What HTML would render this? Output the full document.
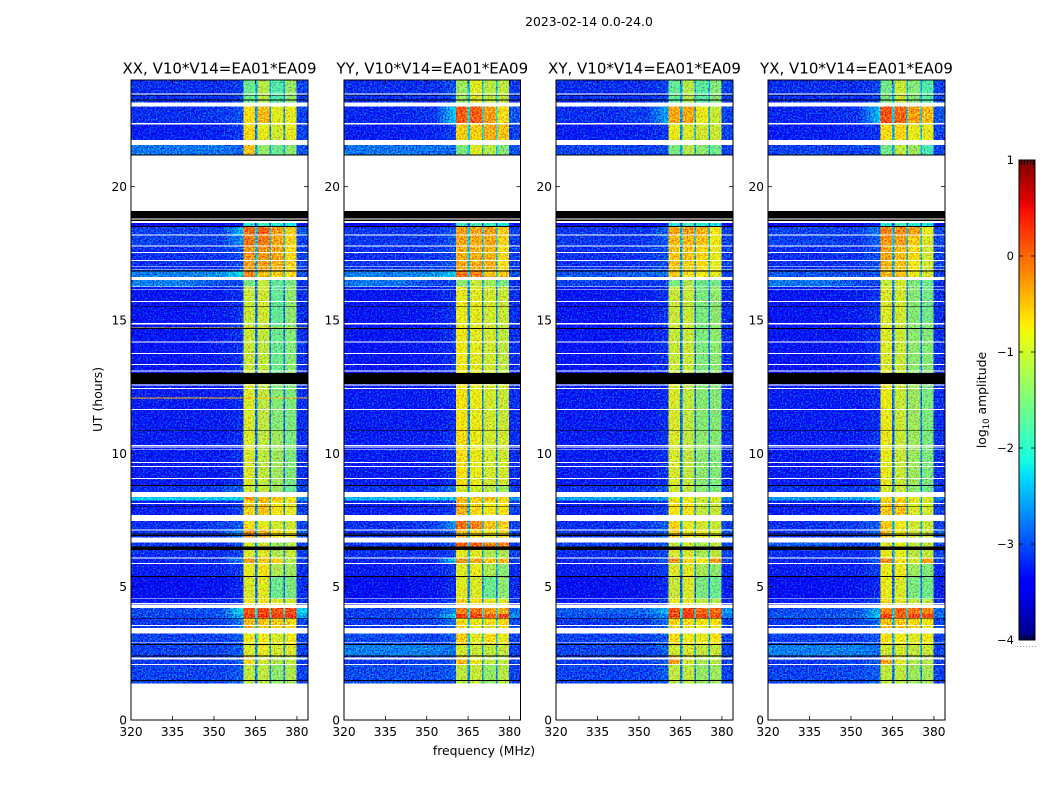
<!DOCTYPE html>
<html lang="en">
<head>
<meta charset="utf-8">
<title>2023-02-14 0.0-24.0</title>
<style>
html,body{margin:0;padding:0;background:#fff;width:1050px;height:800px;overflow:hidden}
svg{display:block}
text{font-family:"DejaVu Sans","Liberation Sans",sans-serif;fill:#000}
</style>
</head>
<body>
<svg id="figure" xmlns="http://www.w3.org/2000/svg" width="1050" height="800" viewBox="0 0 1050 800">
  <defs>
    <!-- Decorative receiver-noise grain only; every level comes from the arrays below -->
    <filter id="grain" filterUnits="userSpaceOnUse" x="120" y="70" width="840" height="660" color-interpolation-filters="sRGB">
      <feTurbulence type="fractalNoise" baseFrequency="0.62" numOctaves="2" seed="7" result="n"/>
      <feColorMatrix in="n" type="matrix" values="0.6 0 0 0 0.2  0 1.5 0 0 -0.3  0 0 1.2 0 -0.1  0 0 0 0 1" result="opaque"/>
      <feComposite in="SourceGraphic" in2="opaque" operator="arithmetic" k1="0" k2="1" k3="1" k4="-0.5" result="mix"/>
      <feComposite in="mix" in2="SourceAlpha" operator="in"/>
    </filter>
  </defs>
  <rect x="0" y="0" width="1050" height="800" fill="#fff"/>
  <text x="589" y="26" font-size="12.4" text-anchor="middle">2023-02-14 0.0-24.0</text>
  <text transform="translate(102,399.5) rotate(-90)" font-size="12.4" text-anchor="middle">UT (hours)</text>
  <text x="484" y="755" font-size="12.4" text-anchor="middle">frequency (MHz)</text>
  <text transform="translate(986,400) rotate(-90)" font-size="12.4" text-anchor="middle">log<tspan font-size="8.5" dy="3">10</tspan><tspan dy="-3"> amplitude</tspan></text>
  <g id="panels"></g>
  <g id="colorbar"></g>
</svg>
<script>
const panelTitles = ["XX, V10*V14=EA01*EA09", "YY, V10*V14=EA01*EA09", "XY, V10*V14=EA01*EA09", "YX, V10*V14=EA01*EA09"];
const xTickLabels = [320, 335, 350, 365, 380];
const yTickLabels = [0, 5, 10, 15, 20];
const colorbarTicks = [-4, -3, -2, -1, 0, 1];

// Frequency edges (MHz) of the heatmap columns
const freqEdges = [320, 340, 353, 360.6, 364.8, 365.7, 370, 370.6, 375.1, 375.7, 379.9, 384];
// Which value of a level row (below) each column reads: 0 left,1 mid,2 near,3-6 subbands,7 right,8 subband gap
const columnLevelIndex = [0, 1, 2, 3, 8, 4, 8, 5, 8, 6, 7];

// Time span (UT hours) of each heatmap row
const rowTop = [24.00,23.00,22.37,21.56,18.64,18.49,18.15,17.78,17.21,16.82,16.50,16.24,14.85,12.60,10.88,8.81,8.37,8.23,7.46,7.16,6.65,6.38,6.08,5.85,5.40,4.54,4.20,3.98,3.83,3.26,2.85,2.40,2.06];
const rowBottom = [23.15,22.37,21.75,21.17,18.49,18.15,17.78,17.21,16.82,16.61,16.24,14.85,13.01,10.88,8.81,8.55,8.23,7.69,7.16,6.84,6.38,6.08,5.85,5.40,4.54,4.31,3.98,3.83,3.45,2.85,2.40,2.06,1.35];

// log10 amplitude: [left, mid, near, sub1, sub2, sub3, sub4, right, gap]
const xxLevels = [
[-3.1,-3.1,-3.0,-1.6,-1.15,-1.75,-1.35,-3.0,-2.5],
[-3.1,-3.05,-2.9,-0.7,-0.5,-0.9,-0.85,-3.0,-2.6],
[-3.2,-3.15,-3.0,-0.65,-0.85,-1.0,-0.85,-3.0,-2.7],
[-2.75,-2.75,-2.85,-0.55,-1.35,-1.6,-1.4,-2.9,-2.5],
[-3.4,-3.4,-3.2,-2.0,-1.8,-2.0,-2.1,-3.3,-3.0],
[-3.0,-3.0,-2.35,-0.05,-0.05,-0.35,-0.6,-2.9,-2.3],
[-3.0,-3.0,-2.6,-0.15,-0.15,-0.4,-0.65,-3.0,-2.4],
[-3.1,-3.05,-2.9,-0.3,-0.3,-0.4,-0.7,-3.0,-2.5],
[-3.1,-3.1,-2.9,-0.35,-0.35,-0.45,-0.65,-3.0,-2.5],
[-2.7,-2.6,-2.2,-0.2,-0.55,-0.6,-0.7,-2.9,-2.3],
[-2.7,-2.95,-3.0,-1.5,-1.05,-1.65,-1.5,-3.1,-2.6],
[-3.25,-3.2,-3.05,-1.05,-1.0,-1.65,-1.4,-3.1,-2.8],
[-3.25,-3.2,-3.05,-1.05,-1.1,-1.6,-1.45,-3.1,-2.8],
[-3.2,-3.2,-3.1,-0.95,-1.1,-1.45,-1.5,-3.1,-2.8],
[-3.2,-3.2,-3.05,-0.95,-1.1,-1.3,-1.5,-3.1,-2.8],
[-3.1,-3.0,-2.8,-1.0,-1.05,-1.3,-1.6,-3.0,-2.6],
[-2.3,-2.3,-2.25,-0.3,-0.5,-0.55,-0.75,-2.6,-2.2],
[-3.2,-3.15,-3.0,-0.65,-0.55,-0.75,-0.85,-3.0,-2.6],
[-3.1,-3.0,-2.85,-0.7,-0.85,-1.0,-1.0,-3.0,-2.5],
[-3.1,-3.0,-2.6,-0.3,-0.45,-0.7,-0.8,-2.9,-2.5],
[-3.05,-3.05,-2.9,-1.0,-1.0,-1.3,-1.1,-3.0,-2.5],
[-3.1,-3.1,-2.95,-0.95,-0.9,-1.2,-1.05,-3.0,-2.6],
[-3.15,-3.1,-2.6,-0.35,-0.55,-0.65,-1.15,-3.0,-2.5],
[-3.2,-3.15,-3.0,-0.85,-0.75,-1.2,-1.3,-3.1,-2.7],
[-3.3,-3.25,-3.1,-0.95,-0.9,-1.6,-1.5,-3.1,-2.8],
[-3.2,-3.15,-3.0,-0.8,-0.75,-0.9,-1.0,-3.1,-2.6],
[-2.95,-2.9,-2.2,0.05,0.1,0.05,0.1,-2.3,-2.1],
[-3.0,-2.9,-2.4,0.15,0.2,0.15,0.2,-2.5,-2.2],
[-3.05,-3.0,-2.7,-0.5,-0.55,-0.6,-0.65,-2.95,-2.5],
[-3.0,-3.0,-2.85,-0.8,-0.8,-0.95,-0.8,-3.0,-2.5],
[-3.0,-3.0,-2.85,-0.95,-0.85,-1.0,-0.95,-3.0,-2.6],
[-3.05,-3.0,-2.85,-0.7,-1.0,-1.2,-1.1,-3.0,-2.6],
[-3.0,-3.0,-2.85,-1.1,-1.1,-1.4,-1.2,-3.0,-2.7]
];
const yyLevels = [
[-3.1,-3.1,-2.9,-1.3,-0.9,-1.15,-1.1,-3.05,-2.4],
[-3.15,-3.05,-2.3,0.0,0.0,-0.35,-0.7,-2.9,-2.2],
[-3.2,-3.15,-3.0,-0.6,-0.6,-0.45,-0.55,-3.0,-2.3],
[-2.75,-2.75,-2.85,-1.5,-0.9,-1.15,-1.45,-2.9,-2.3],
[-3.4,-3.4,-3.2,-1.9,-1.8,-1.9,-2.1,-3.3,-3.0],
[-3.05,-3.05,-2.85,-0.35,-0.4,-0.35,-0.6,-3.0,-2.3],
[-3.05,-3.05,-2.85,-0.4,-0.4,-0.4,-0.65,-3.0,-2.3],
[-3.1,-3.05,-2.9,-0.45,-0.45,-0.45,-0.7,-3.0,-2.4],
[-3.05,-3.0,-2.9,-0.4,-0.4,-0.45,-0.7,-3.0,-2.4],
[-2.7,-2.6,-2.3,-0.1,-0.2,-0.55,-0.6,-2.9,-2.3],
[-2.75,-3.0,-3.0,-1.4,-1.1,-1.3,-1.5,-3.1,-2.5],
[-3.25,-3.2,-3.05,-0.85,-0.9,-1.0,-1.05,-3.1,-2.7],
[-3.25,-3.2,-3.05,-0.8,-0.9,-1.0,-1.1,-3.1,-2.7],
[-3.2,-3.2,-3.1,-0.75,-0.85,-1.0,-1.05,-3.1,-2.7],
[-3.2,-3.2,-3.05,-0.7,-0.85,-1.0,-1.0,-3.1,-2.7],
[-3.1,-3.0,-2.7,-0.95,-1.0,-1.15,-1.3,-3.0,-2.5],
[-2.4,-2.4,-2.3,-0.5,-0.6,-0.5,-0.7,-2.6,-2.2],
[-3.2,-3.15,-3.0,-0.45,-0.7,-0.8,-0.75,-3.0,-2.5],
[-3.1,-3.0,-2.6,-0.1,-0.2,-0.55,-0.65,-3.0,-2.4],
[-3.1,-3.0,-2.85,-0.5,-0.65,-0.8,-0.75,-2.9,-2.4],
[-3.05,-3.05,-2.8,0.0,-0.05,-0.2,-0.2,-3.0,-2.4],
[-3.1,-3.1,-2.95,-0.85,-0.9,-1.2,-1.2,-3.0,-2.5],
[-3.15,-3.1,-2.3,-0.3,-0.4,-0.55,-0.5,-3.0,-2.4],
[-3.2,-3.15,-3.0,-0.9,-0.85,-1.2,-1.4,-3.1,-2.6],
[-3.3,-3.25,-3.1,-0.9,-0.95,-1.6,-1.4,-3.1,-2.7],
[-3.2,-3.15,-3.0,-0.6,-0.7,-0.85,-0.9,-3.1,-2.5],
[-3.0,-2.95,-2.6,-0.2,-0.1,-0.35,-0.4,-2.8,-2.3],
[-3.0,-2.9,-2.25,0.2,0.15,0.0,0.1,-2.6,-2.2],
[-3.05,-3.0,-2.75,-0.7,-0.8,-0.75,-0.7,-2.95,-2.4],
[-2.95,-3.0,-2.85,-0.6,-0.9,-0.7,-0.85,-3.0,-2.4],
[-2.7,-2.7,-2.8,-1.0,-1.05,-1.1,-1.05,-3.0,-2.5],
[-3.05,-3.0,-2.85,-0.5,-0.85,-1.1,-1.1,-3.0,-2.5],
[-2.95,-2.95,-2.85,-1.1,-1.05,-1.35,-1.15,-3.0,-2.6]
];
const xyLevels = [
[-3.1,-3.1,-3.0,-1.65,-1.15,-1.7,-1.45,-3.0,-2.5],
[-3.1,-3.0,-2.5,-0.4,-0.4,-0.85,-1.05,-3.0,-2.5],
[-3.2,-3.15,-3.05,-0.85,-0.95,-1.0,-1.05,-3.0,-2.6],
[-3.0,-3.0,-2.95,-1.5,-1.15,-1.4,-1.55,-3.0,-2.5],
[-3.4,-3.4,-3.2,-2.0,-1.8,-2.0,-2.1,-3.3,-3.0],
[-3.05,-3.05,-2.85,-0.4,-0.35,-0.45,-0.75,-3.0,-2.4],
[-3.05,-3.05,-2.85,-0.5,-0.5,-0.55,-0.8,-3.0,-2.4],
[-3.1,-3.05,-2.9,-0.55,-0.55,-0.65,-0.85,-3.0,-2.5],
[-3.1,-3.05,-2.9,-0.55,-0.6,-0.7,-0.85,-3.0,-2.5],
[-2.9,-2.85,-2.75,-0.6,-0.7,-0.8,-0.85,-3.0,-2.5],
[-3.0,-3.05,-3.0,-1.5,-1.2,-1.6,-1.55,-3.1,-2.6],
[-3.25,-3.2,-3.05,-1.05,-1.05,-1.5,-1.4,-3.1,-2.8],
[-3.25,-3.2,-3.05,-1.05,-1.05,-1.5,-1.4,-3.1,-2.8],
[-3.2,-3.2,-3.1,-0.95,-1.1,-1.45,-1.45,-3.1,-2.8],
[-3.2,-3.2,-3.05,-0.95,-1.1,-1.4,-1.45,-3.1,-2.8],
[-3.1,-3.05,-2.9,-1.0,-1.1,-1.4,-1.5,-3.0,-2.6],
[-2.5,-2.6,-2.5,-0.9,-0.85,-1.0,-0.9,-2.7,-2.4],
[-3.2,-3.15,-3.0,-0.75,-0.75,-1.1,-1.05,-3.0,-2.6],
[-3.1,-3.0,-2.85,-0.65,-0.9,-1.0,-1.05,-3.0,-2.5],
[-3.1,-3.0,-2.8,-0.6,-0.75,-0.85,-0.9,-2.9,-2.5],
[-3.0,-3.0,-2.9,-1.1,-1.0,-1.2,-1.1,-3.0,-2.5],
[-3.1,-3.1,-2.95,-0.95,-0.95,-1.25,-1.1,-3.0,-2.6],
[-3.15,-3.1,-2.8,-0.25,-0.7,-0.8,-0.35,-3.0,-2.5],
[-3.2,-3.15,-3.0,-0.95,-0.9,-1.25,-1.4,-3.1,-2.7],
[-3.3,-3.25,-3.1,-1.05,-0.95,-1.5,-1.6,-3.2,-2.8],
[-3.2,-3.15,-3.0,-0.85,-0.85,-1.1,-1.2,-3.1,-2.6],
[-2.85,-2.8,-2.4,0.05,0.15,-0.05,-0.05,-2.6,-2.2],
[-2.95,-2.9,-2.6,0.1,0.2,0.1,0.05,-2.7,-2.2],
[-3.05,-3.0,-2.75,-0.65,-0.7,-0.75,-0.75,-3.0,-2.5],
[-3.0,-3.0,-2.85,-0.7,-0.8,-0.85,-0.75,-3.0,-2.5],
[-3.0,-3.0,-2.85,-1.0,-1.0,-1.1,-1.05,-3.0,-2.6],
[-3.05,-3.0,-2.85,-0.35,-1.0,-1.25,-1.15,-3.0,-2.6],
[-3.0,-3.0,-2.85,-1.1,-1.1,-1.35,-1.3,-3.0,-2.7]
];
const yxLevels = [
[-3.1,-3.1,-3.0,-1.55,-1.05,-1.45,-1.75,-3.0,-2.5],
[-3.15,-3.05,-2.35,0.05,-0.05,-0.35,-0.5,-2.9,-2.3],
[-3.2,-3.15,-3.05,-0.7,-0.65,-0.85,-0.85,-3.0,-2.5],
[-3.0,-3.0,-2.95,-1.55,-1.1,-1.3,-1.8,-3.0,-2.5],
[-3.4,-3.4,-3.2,-2.0,-1.8,-2.0,-2.1,-3.3,-3.0],
[-3.0,-3.0,-2.7,-0.2,-0.25,-0.35,-0.85,-3.0,-2.4],
[-3.0,-3.05,-2.8,-0.3,-0.35,-0.6,-0.95,-3.0,-2.4],
[-3.1,-3.05,-2.9,-0.4,-0.5,-0.7,-1.0,-3.0,-2.5],
[-3.1,-3.05,-2.9,-0.45,-0.55,-0.75,-1.0,-3.0,-2.5],
[-2.9,-2.95,-2.9,-0.5,-0.55,-0.8,-0.95,-3.0,-2.5],
[-2.75,-2.95,-3.0,-1.1,-1.0,-1.5,-1.6,-3.1,-2.6],
[-3.25,-3.2,-3.05,-0.95,-1.0,-1.45,-1.55,-3.1,-2.8],
[-3.25,-3.2,-3.05,-0.95,-1.05,-1.4,-1.45,-3.1,-2.8],
[-3.2,-3.2,-3.1,-0.85,-1.05,-1.3,-1.5,-3.1,-2.8],
[-3.2,-3.2,-3.05,-0.85,-1.05,-1.3,-1.5,-3.1,-2.8],
[-3.1,-3.05,-2.9,-0.95,-1.05,-1.4,-1.6,-3.0,-2.6],
[-2.55,-2.5,-2.3,-0.7,-0.7,-0.9,-1.0,-2.7,-2.4],
[-3.2,-3.15,-3.0,-0.6,-0.55,-0.95,-1.0,-3.0,-2.6],
[-3.1,-3.0,-2.85,-0.6,-0.8,-1.0,-1.05,-3.0,-2.5],
[-3.1,-3.0,-2.8,-0.5,-0.75,-1.0,-1.05,-2.9,-2.5],
[-2.9,-2.95,-2.9,-0.9,-0.85,-1.1,-1.1,-3.0,-2.5],
[-3.1,-3.1,-2.95,-0.85,-0.85,-1.15,-1.1,-3.0,-2.6],
[-3.15,-3.1,-2.8,-0.25,-0.7,-1.0,-0.4,-3.0,-2.5],
[-3.2,-3.15,-3.0,-0.85,-0.85,-1.3,-1.45,-3.1,-2.7],
[-3.3,-3.25,-3.1,-0.85,-0.95,-1.5,-1.55,-3.2,-2.8],
[-3.2,-3.15,-3.0,-0.7,-0.85,-1.1,-1.15,-3.1,-2.6],
[-2.95,-2.9,-2.4,-0.2,-0.05,-0.1,-0.2,-2.8,-2.3],
[-2.9,-2.85,-2.3,0.15,0.0,0.1,0.1,-2.8,-2.2],
[-3.05,-3.0,-2.75,-0.55,-0.6,-0.65,-0.75,-3.0,-2.5],
[-3.0,-3.0,-2.85,-0.7,-0.8,-0.9,-0.8,-3.0,-2.5],
[-2.7,-2.7,-2.8,-1.0,-1.0,-1.1,-1.05,-3.0,-2.6],
[-3.05,-3.0,-2.85,-0.4,-0.9,-1.2,-1.15,-3.0,-2.6],
[-3.0,-2.95,-2.85,-1.1,-1.1,-1.3,-1.25,-3.0,-2.7]
];
const panelLevels = [xxLevels, yyLevels, xyLevels, yxLevels];

// Flagged integrations (UT hours): blank rows and zero-amplitude (black) rows
const blankTop = [23.50,23.15,22.39,21.75,21.17,18.81,18.71,18.21,17.80,17.55,17.25,17.01,16.91,16.61,16.26,16.16,15.71,14.88,14.19,13.76,13.35,13.10,12.58,12.45,11.66,10.31,10.25,10.17,9.68,9.53,9.08,8.55,8.14,7.69,7.15,6.84,6.09,5.89,4.56,4.38,4.31,3.56,3.45,2.91,2.34,2.10,1.36];
const blankBottom = [23.46,23.00,22.34,21.56,19.09,18.77,18.64,18.16,17.75,17.51,17.21,16.98,16.89,16.51,16.23,16.14,15.68,14.84,14.15,13.73,13.31,13.06,12.54,12.41,11.63,10.28,10.21,10.14,9.64,9.49,9.04,8.37,8.10,7.46,7.11,6.65,6.06,5.85,4.53,4.34,4.20,3.53,3.25,2.88,2.26,2.06,0];
const zeroTop = [23.44,23.27,21.21,19.09,18.77,18.52,16.86,15.52,14.70,13.01,10.88,8.81,8.00,6.99,6.94,6.50,5.40,3.83,2.85,2.42,1.50];
const zeroBottom = [23.41,23.23,21.17,18.81,18.71,18.49,16.82,15.50,14.67,12.60,10.85,8.78,7.98,6.96,6.90,6.38,5.36,3.80,2.81,2.39,1.47];

// Interference streaks seen across the XX panel: UT hour and log10 amplitude
const xxStreakHours = [14.72, 12.10];
const xxStreakLevels = [-0.6, -0.5];

const svgNS = "http://www.w3.org/2000/svg";
const panelLeft = [131, 344, 556, 768];
const panelRight = [308, 520.5, 733, 945];
const axisTop = 80, axisBottom = 720;
const freqMin = 320, freqMax = 384, hourMin = 0, hourMax = 24;
const cbLeft = 1019, cbRight = 1035, cbTop = 160, cbBottom = 640, cbMin = -4, cbMax = 1;

function xScale(p, f) { return panelLeft[p] + (f - freqMin) / (freqMax - freqMin) * (panelRight[p] - panelLeft[p]); }
function yScale(h) { return axisBottom - (h - hourMin) / (hourMax - hourMin) * (axisBottom - axisTop); }
function cbScale(v) { return cbBottom - (v - cbMin) / (cbMax - cbMin) * (cbBottom - cbTop); }

function ramp(t, pts) {
  for (let i = 1; i < pts.length; i++) {
    if (t <= pts[i][0]) {
      const a = pts[i - 1], b = pts[i];
      return a[1] + (t - a[0]) / (b[0] - a[0]) * (b[1] - a[1]);
    }
  }
  return pts[pts.length - 1][1];
}
function jet(v) {
  const t = Math.max(0, Math.min(1, (v - cbMin) / (cbMax - cbMin)));
  const r = ramp(t, [[0, 0], [0.35, 0], [0.66, 1], [0.89, 1], [1, 0.5]]);
  const g = ramp(t, [[0, 0], [0.125, 0], [0.375, 1], [0.64, 1], [0.91, 0], [1, 0]]);
  const b = ramp(t, [[0, 0.5], [0.11, 1], [0.34, 1], [0.65, 0], [1, 0]]);
  return "rgb(" + Math.round(r * 255) + "," + Math.round(g * 255) + "," + Math.round(b * 255) + ")";
}
function make(tag, parent, attrs) {
  const el = document.createElementNS(svgNS, tag);
  for (const k in attrs) el.setAttribute(k, attrs[k]);
  parent.appendChild(el);
  return el;
}
// Cell fill that fades between two neighbouring levels (the roll-off toward the subbands)
function fadeFill(parent, id, fromLevel, toLevel) {
  const grad = make("linearGradient", parent, { id: id, x1: 0, x2: 1, y1: 0, y2: 0 });
  make("stop", grad, { offset: "0", "stop-color": jet(fromLevel) });
  make("stop", grad, { offset: "1", "stop-color": jet(toLevel) });
  return "url(#" + id + ")";
}

const panelsRoot = document.getElementById("panels");

panelTitles.forEach(function (title, p) {
  const panel = make("g", panelsRoot, {});
  
  

  const L = panelLeft[p], R = panelRight[p];

  const titleEl = make("text", panel, { x: (L + R) / 2, y: 73.5, "font-size": 15, "text-anchor": "middle" });
  titleEl.textContent = title;
  
  

  const cells = make("g", panel, { filter: "url(#grain)", "shape-rendering": "crispEdges" });
  
  

  panelLevels[p].forEach(function (row, r) {
    columnLevelIndex.forEach(function (idx, c) {
      const x0 = xScale(p, freqEdges[c]), x1 = xScale(p, freqEdges[c + 1]);
      const y0 = yScale(rowTop[r]), y1 = yScale(rowBottom[r]);
      let fill = jet(row[idx]);
      if (c === 1 || c === 2) {
        fill = fadeFill(cells, "fade-" + p + "-" + r + "-" + c, row[idx - 1], row[idx]);
      }
      const cell = make("rect", cells, { x: x0, y: y0, width: x1 - x0, height: y1 - y0, fill: fill });
      
      
    });
  });

  if (p === 0) {
    xxStreakHours.forEach(function (h, i) {
      const streak = make("rect", cells, { x: xScale(p, freqMin), y: yScale(h), width: xScale(p, freqMax) - xScale(p, freqMin), height: 1, fill: jet(xxStreakLevels[i]) });
      
      
    });
  }

  const masks = make("g", panel, { "shape-rendering": "crispEdges" });
  
  

  blankTop.forEach(function (h, i) {
    const m = make("rect", masks, { x: L, y: yScale(h), width: R - L, height: yScale(blankBottom[i]) - yScale(h), fill: "#fff" });
    
    
  });
  zeroTop.forEach(function (h, i) {
    const m = make("rect", masks, { x: L, y: yScale(h), width: R - L, height: yScale(zeroBottom[i]) - yScale(h), fill: "#000" });
    
    
  });

  xTickLabels.forEach(function (f) {
    const x = xScale(p, f);
    const t1 = make("line", panel, { x1: x, x2: x, y1: axisBottom, y2: axisBottom - 4, stroke: "#000", "stroke-width": 0.8 });
    
    
    const t2 = make("line", panel, { x1: x, x2: x, y1: axisTop, y2: axisTop + 4, stroke: "#000", "stroke-width": 0.8 });
    
    
    const lab = make("text", panel, { x: x, y: 736, "font-size": 12.2, "text-anchor": "middle" });
    lab.textContent = f;
    
    
  });

  yTickLabels.forEach(function (h) {
    const y = yScale(h);
    const t1 = make("line", panel, { x1: L, x2: L + 4, y1: y, y2: y, stroke: "#000", "stroke-width": 0.8 });
    
    
    const t2 = make("line", panel, { x1: R, x2: R - 4, y1: y, y2: y, stroke: "#000", "stroke-width": 0.8 });
    
    
    const lab = make("text", panel, { x: L - 4, y: y + 4.5, "font-size": 12.2, "text-anchor": "end" });
    lab.textContent = h;
    
    
  });

  const frame = make("rect", panel, { x: L, y: axisTop, width: R - L, height: axisBottom - axisTop, fill: "none", stroke: "#000", "stroke-width": 1 });
  
  
});

const cbRoot = document.getElementById("colorbar");
const cbSteps = 120;
for (let i = 0; i < cbSteps; i++) {
  const vLow = cbMin + (cbMax - cbMin) * i / cbSteps;
  const vHigh = cbMin + (cbMax - cbMin) * (i + 1) / cbSteps;
  const seg = make("rect", cbRoot, { x: cbLeft, y: cbScale(vHigh), width: cbRight - cbLeft, height: cbScale(vLow) - cbScale(vHigh) + 0.5, fill: jet((vLow + vHigh) / 2), "shape-rendering": "crispEdges" });
  
  
}
colorbarTicks.forEach(function (v) {
  const y = cbScale(v);
  const t1 = make("line", cbRoot, { x1: cbLeft, x2: cbLeft + 4, y1: y, y2: y, stroke: "#000", "stroke-width": 0.8 });
  
  
  const t2 = make("line", cbRoot, { x1: cbRight, x2: cbRight - 4, y1: y, y2: y, stroke: "#000", "stroke-width": 0.8 });
  
  
  const lab = make("text", cbRoot, { x: cbLeft - 5, y: y + 4, "font-size": 11.5, "text-anchor": "end" });
  lab.textContent = v < 0 ? "\u2212" + Math.abs(v) : String(v);
  
  
});
const cbFrame = make("rect", cbRoot, { x: cbLeft, y: cbTop, width: cbRight - cbLeft, height: cbBottom - cbTop, fill: "none", stroke: "#000", "stroke-width": 1 });


const cbTicksTop = make("line", cbRoot, { x1: cbLeft + 2, x2: cbRight, y1: cbTop + 2.5, y2: cbTop + 2.5, stroke: "#000", "stroke-width": 5, "stroke-dasharray": "1 2" });


const cbTicksBottom = make("line", cbRoot, { x1: cbLeft + 2, x2: cbRight, y1: cbBottom - 2.5, y2: cbBottom - 2.5, stroke: "#000", "stroke-width": 5, "stroke-dasharray": "1 2" });


const cbDots = make("line", cbRoot, { x1: 1017, x2: 1036, y1: 646.5, y2: 646.5, stroke: "#999", "stroke-width": 1, "stroke-dasharray": "1 2" });


</script>
</body>
</html>
